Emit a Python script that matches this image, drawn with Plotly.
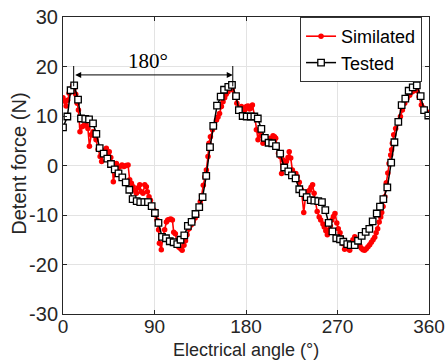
import plotly.graph_objects as go

# Tested (black squares)
tested_angle = [0, 4.3, 7.5, 11, 14.8, 17.7, 21.9, 25.6, 29.5, 32.8, 36.1, 40, 43.6, 47.2, 50.9, 54.6,
                58.3, 61.7, 65.2, 68.5, 72.5, 76, 80, 83.6, 87.2, 90.4, 93.9, 97.4, 101.3, 105, 108.8,
                112.4, 115.6, 119.3, 122.8, 126.5, 130.3, 134, 137.3, 140.9, 144.6, 147.8, 151.5, 155.1,
                158.4, 162.6, 166.2, 170.2, 173, 176.7, 180.7, 184.6, 188.2, 191.6, 195.1, 198.5, 202.2,
                205.8, 209.5, 213.6, 217.6, 221.6, 225.2, 228.8, 232.4, 235.8, 239.7, 243.7, 247.2, 251.1,
                254.7, 258, 261.3, 265, 268.8, 272.5, 275.7, 279.6, 283, 286.9, 290.2, 293.8, 297.7, 301.3,
                304.6, 308.6, 311.8, 315.1, 319, 322.8, 326, 329.8, 333.1, 336.7, 340, 344, 348, 351.8,
                355.2, 359.3]
tested_force = [7.7, 9.9, 15.2, 16.2, 13.3, 9.5, 9.4, 9.3, 8.5, 6.4, 3.5, 2.4, 1.4, 0.3, -0.8, -1.6,
                -2.4, -3.4, -4.9, -6.8, -7.2, -7.4, -7.4, -7.4, -8.2, -9.6, -11.6, -14.4, -14.7, -15.3, -15.5,
                -15.9, -15.0, -14.1, -12.2, -11.4, -9.8, -8.4, -6.4, -2.1, 3.7, 8.0, 12.1, 13.9,
                15.3, 15.9, 16.3, 14.0, 11.2, 10.0, 9.9, 9.9, 9.9, 9.5, 7.4, 5.6, 4.6,
                4.5, 3.9, 2.4, -0.4, -1.2, -2.0, -2.6, -4.8, -5.6, -6.4, -7.0, -7.1, -7.2,
                -7.4, -9.0, -11.6, -13.3, -14.7, -14.9, -15.4, -15.9, -16.1, -16.1, -15.2, -14.2, -13.4, -12.8,
                -11.3, -9.7, -8.3, -6.8, -4.4, 0.6, 4.7, 8.8, 12.2, 13.5, 15.1, 15.8, 16.2, 14.0,
                11.2, 10.1]

# Simulated (red dots)
sim_angle = [0, 1.5, 3, 4.5, 6, 7.5, 9.5, 11, 12.5, 14, 15.2, 16.7, 18.3, 20, 21.5, 22.8, 24.5, 26, 27.8,
             29.5, 31, 32.5, 34.5, 36.5, 38, 39.5, 41, 42.6, 44, 45.5, 47, 48.5, 49.5, 51, 52.5, 54, 56, 58,
             60, 62, 64, 65.6, 67.3, 69, 70.5, 72.2, 74, 75.5, 77, 78.7, 80.4, 82, 83, 84.6, 86, 87.5, 89.3,
             91, 92.5, 94, 94.8, 96.7, 98.3, 100, 101.7, 103, 104.5, 106, 107.6, 108.9, 110.5, 112, 114,
             115.8, 117.2, 119, 120.5, 122, 124, 126, 128, 130, 131.5, 133.5, 135, 136.3, 138, 139.5, 141,
             142.6, 143.6, 145, 147, 149, 151, 152.5, 154, 155.8, 157.4, 159, 160.5, 162.3, 164.5, 166.5,
             168.9, 171, 173.5, 175.5, 177, 178.7, 180.4, 182, 183.5, 185, 186.3, 188.6, 190.2, 191.8,
             193.5, 195, 196.7, 198.3, 200, 201.5, 203.3, 205, 206.6, 208, 209.2, 210.8, 212, 213.5, 215,
             216.5, 218, 219.7, 221.3, 222.5, 224, 225.6, 227, 229, 230.5, 232.4, 234.5, 236.8, 238.8,
             240.5, 242.5, 244, 245.5, 247, 248.5, 250, 252, 253.5, 255.7, 257, 258.5, 260, 261.5, 263,
             264.5, 266, 267.5, 269.3, 270.8, 272.5, 274, 275.5, 277, 278.7, 280.2, 282, 283.5, 285.2,
             287, 288.5, 290.2, 292, 293.5, 295, 296.7, 298.3, 300, 301.7, 303.3, 305, 306.6, 308, 309.5,
             311, 312.5, 313.5, 314.8, 316.5, 318, 319.5, 320.7, 322.3, 323.2, 324, 325.3, 327.2, 329.5,
             331.9, 333.8, 336.1, 338.4, 341, 343.7, 346, 348.2, 350.2, 352.5, 354.8, 357.4, 360]
sim_force = [13.7, 13.0, 12.0, 13.2, 14.6, 15.4, 16.1, 15.6, 14.4, 12.6, 11.2, 6.8, 7.8, 8.0, 8.6, 8.2, 7.5,
             3.9, 6.2, 6.8, 6.0, 5.2, 3.3, 1.8, 0.8, 2.4, 3.1, 3.5, 2.6, 2.8, 1.6, 0.4, -3.3, -1.0, 0.4,
             -0.6, -0.2, 0.1, -0.2, 0.0, 0.1, -2.9, -3.6, -4.3, -5.0, -5.6, -4.5, -3.9, -5.3, -5.6, -3.9,
             -4.3, -5.3, -6.3, -7.0, -8.0, -9.0, -10.0, -11.0, -13.0, -15.7, -17.0, -14.4, -13.0, -11.4,
             -11.0, -10.9, -10.8, -11.0, -13.5, -13.8, -15.4, -16.5, -16.8, -17.1, -16.1, -15.2, -14.0,
             -12.8, -12.0, -11.3, -10.6, -10.0, -8.5, -7.3, -6.1, -4.0, -2.3, -0.9, 1.8, 4.5, 5.8, 7.2,
             8.2, 9.2, 9.8, 10.5, 11.9, 12.9, 13.7, 14.4, 14.9, 15.6, 15.3, 13.9, 12.6, 11.6, 11.9, 11.2,
             11.2, 11.9, 12.0, 11.4, 11.6, 12.2, 9.9, 7.2, 5.2, 6.8, 6.0, 4.5, 4.9, 5.2, 4.5, 5.5, 5.2,
             6.0, 5.8, 5.5, 3.8, 2.5, 1.8, -1.6, 1.1, 0.1, 0.8, 1.6, 2.8, 1.5, -0.9, -1.6, -1.6, -2.3,
             -3.4, -4.9, -9.5, -5.8, -5.3, -5.0, -4.4, -3.9, -5.6, -7.3, -9.3, -10.4, -11.0, -11.8, -12.4,
             -13.2, -14.0, -13.0, -12.2, -11.0, -10.3, -9.7, -11.6, -12.8, -13.6, -14.6, -15.8, -16.9,
             -16.7, -16.8, -17.1, -16.0, -15.0, -14.4, -15.0, -15.6, -16.2, -16.7, -17.0, -17.1, -16.8,
             -16.4, -16.0, -15.5, -15.0, -14.5, -13.6, -12.8, -11.4, -10.4, -9.5, -8.3, -6.3, -3.5, -1.5,
             0.4, 2.1, 3.2, 4.5, 6.2, 7.5, 8.5, 9.9, 11.2, 12.6, 13.6, 14.2, 14.9, 15.6, 15.1, 13.9, 12.2,
             11.6, 10.9, 10.7]

x_ticks = [0, 90, 180, 270, 360]
y_ticks = [-30, -20, -10, 0, 10, 20, 30]

font_sans = "Liberation Sans, Arial, sans-serif"
axis_col = "#262626"

fig = go.Figure()
fig.add_trace(go.Scatter(
    x=sim_angle, y=sim_force, mode="lines+markers", name="Similated",
    line=dict(color="#ff0000", width=1.6),
    marker=dict(symbol="circle", size=5.5, color="#ff0000"),
))
fig.add_trace(go.Scatter(
    x=tested_angle, y=tested_force, mode="lines+markers", name="Tested",
    line=dict(color="#000000", width=1.5),
    marker=dict(symbol="square", size=6.5, color="#ffffff", line=dict(color="#000000", width=1.3)),
))

# 180° span annotation
fig.add_shape(type="line", x0=10.5, x1=10.5, y0=16.0, y1=20.1, xref="x", yref="y",
              line=dict(color="#000000", width=1))
fig.add_shape(type="line", x0=167, x1=167, y0=16.0, y1=20.1, xref="x", yref="y",
              line=dict(color="#000000", width=1))
fig.add_annotation(x=167, y=18.3, ax=10.5, ay=18.3, xref="x", yref="y", axref="x", ayref="y",
                   showarrow=True, arrowhead=2, arrowside="end+start", arrowsize=1.2,
                   arrowwidth=1, arrowcolor="#000000", text="")
fig.add_annotation(x=84, y=21.1, xref="x", yref="y", text="180°", showarrow=False,
                   font=dict(family="Liberation Serif, Times New Roman, serif", size=21, color="#000000"))

# axis titles
fig.add_annotation(x=0.5, y=-0.158, xref="paper", yref="paper", text="Electrical angle (°)",
                   showarrow=False, xanchor="center", yanchor="bottom", borderpad=0,
                   font=dict(family=font_sans, size=18, color=axis_col))
fig.add_annotation(x=-0.121, y=0.505, xref="paper", yref="paper", text="Detent force (N)",
                   showarrow=False, xanchor="center", yanchor="middle", textangle=-90,
                   font=dict(family=font_sans, size=20, color=axis_col))

fig.update_layout(
    width=447, height=361,
    margin=dict(l=63, r=18, t=17, b=47, autoexpand=False),
    paper_bgcolor="white", plot_bgcolor="white",
    font=dict(family=font_sans, size=20, color=axis_col),
    showlegend=True,
    legend=dict(x=0.981, y=1.0, xanchor="right", yanchor="top",
                bgcolor="white", bordercolor="#333333", borderwidth=1,
                font=dict(size=18, color="#000000"), tracegroupgap=0,
                itemwidth=30),
)
fig.update_xaxes(
    range=[0, 360], tickvals=x_ticks, ticktext=[str(v) for v in x_ticks],
    showgrid=True, gridcolor="#e3e3e3", gridwidth=1, automargin=False,
    showline=True, linecolor=axis_col, linewidth=1, mirror="ticks",
    ticks="inside", ticklen=4, tickcolor=axis_col, zeroline=False,
    ticklabelstandoff=-5, tickfont=dict(size=19),
)
fig.update_yaxes(
    range=[-30, 30], tickvals=y_ticks, ticktext=[str(v) for v in y_ticks],
    showgrid=True, gridcolor="#e3e3e3", gridwidth=1, automargin=False,
    showline=True, linecolor=axis_col, linewidth=1, mirror="ticks",
    ticks="inside", ticklen=4, tickcolor=axis_col, zeroline=False,
)

fig.write_html("out.html")
